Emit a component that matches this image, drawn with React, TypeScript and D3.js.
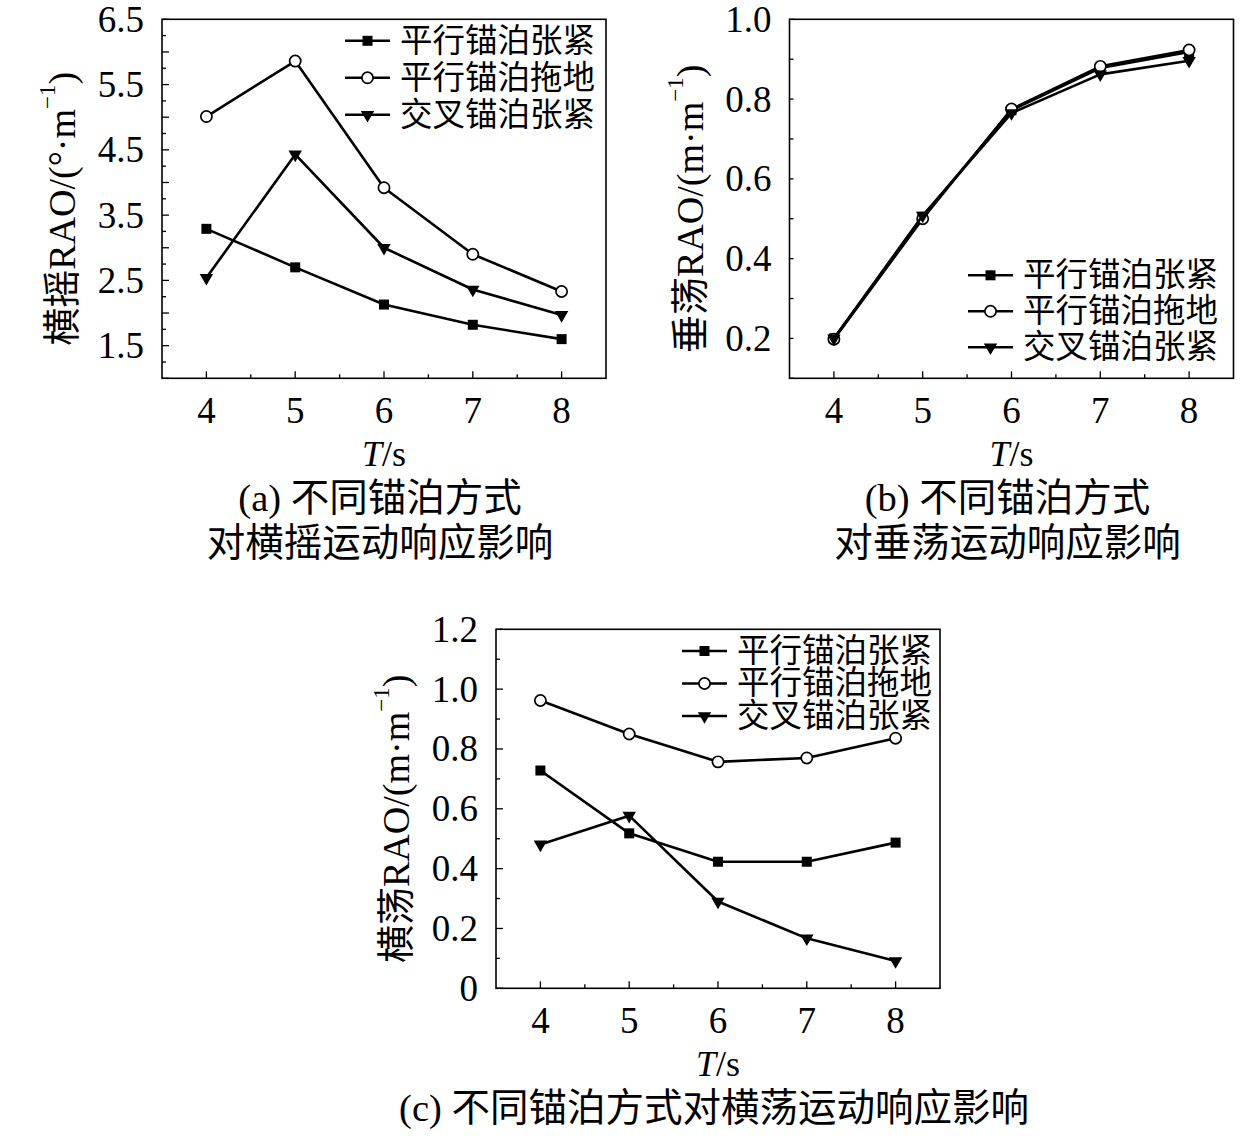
import React from 'react';
import * as d3 from 'd3';

const periods = [4, 5, 6, 7, 8];
const legendNames = ['平行锚泊张紧', '平行锚泊拖地', '交叉锚泊张紧'];
const markerTypes = ['square', 'circle', 'triangle'];

// (a) roll RAO
const rollParallelTaut = [3.29, 2.70, 2.13, 1.82, 1.60];
const rollParallelDrag = [5.01, 5.86, 3.92, 2.90, 2.33];
const rollCrossTaut = [2.54, 4.43, 3.00, 2.36, 1.97];
const rollTicks = [1.5, 2.5, 3.5, 4.5, 5.5, 6.5];

// (b) heave RAO
const heaveParallelTaut = [0.200, 0.505, 0.772, 0.878, 0.918];
const heaveParallelDrag = [0.198, 0.500, 0.775, 0.882, 0.923];
const heaveCrossTaut = [0.200, 0.508, 0.765, 0.862, 0.896];
const heaveTicks = [0.2, 0.4, 0.6, 0.8, 1.0];

// (c) sway RAO
const swayParallelTaut = [0.728, 0.518, 0.423, 0.423, 0.487];
const swayParallelDrag = [0.962, 0.850, 0.757, 0.770, 0.836];
const swayCrossTaut = [0.481, 0.577, 0.290, 0.167, 0.091];
const swayTicks = [0, 0.2, 0.4, 0.6, 0.8, 1.0, 1.2];

const FONT = "'Liberation Serif', 'Noto Sans CJK SC', serif";
const W = 444;
const H = 359;

type PanelProps = {
  x: number;
  y: number;
  series: number[][];
  yDomain: [number, number];
  yTicks: number[];
  majorStep: number;
  minorStep: number;
  fmt: (v: number) => string;
  yTitleCjk: string;
  yTitleUnit: string;
  legend: { x: number; y: number; step: number; size: number };
  caption: string[];
};

const Marker = ({ type, cx, cy }: { type: string; cx: number; cy: number }) => {
  if (type === 'circle') {
    return <circle cx={cx} cy={cy} r={5.6} fill="#fff" stroke="#000" strokeWidth={1.7} />;
  }
  if (type === 'square') {
    return <rect x={cx - 5} y={cy - 5} width={10} height={10} fill="#000" />;
  }
  const tri = d3.symbol().type(d3.symbolTriangle).size(78)();
  return <path d={tri as string} transform={`translate(${cx},${cy}) rotate(180)`} fill="#000" />;
};

const Panel = (p: PanelProps) => {
  const xScale = d3.scaleLinear().domain([3.5, 8.5]).range([0, W]);
  const yScale = d3.scaleLinear().domain(p.yDomain).range([H, 0]);

  const xMajor = periods;
  const xMinor = d3.range(4.5, 8, 1);
  const eps = 1e-6;
  const yMajor = d3.range(p.yDomain[0], p.yDomain[1] + eps, p.majorStep)
    .filter(v => Math.abs(((v - p.yTicks[0]) / p.majorStep) - Math.round((v - p.yTicks[0]) / p.majorStep)) < 1e-3);
  const yAll = d3.range(p.yDomain[0], p.yDomain[1] + eps, p.minorStep);

  const line = d3.line<number>()
    .x((_, i) => xScale(periods[i]))
    .y(d => yScale(d));

  return (
    <g transform={`translate(${p.x},${p.y})`} fontFamily={FONT}>
      {/* ticks point inward */}
      {yAll.map((v, i) => {
        const isMajor = yMajor.some(m => Math.abs(m - v) < 1e-6);
        return (
          <line key={'ym' + i} x1={0} x2={isMajor ? 7 : 4} y1={yScale(v)} y2={yScale(v)}
            stroke="#000" strokeWidth={1.3} />
        );
      })}
      {xMajor.map(v => (
        <line key={'xM' + v} x1={xScale(v)} x2={xScale(v)} y1={H} y2={H - 7} stroke="#000" strokeWidth={1.3} />
      ))}
      {xMinor.map(v => (
        <line key={'xm' + v} x1={xScale(v)} x2={xScale(v)} y1={H} y2={H - 4} stroke="#000" strokeWidth={1.3} />
      ))}
      <rect x={0} y={0} width={W} height={H} fill="none" stroke="#000" strokeWidth={1.6} />

      {p.yTicks.map(v => (
        <text key={'yl' + v} x={-18} y={yScale(v)} textAnchor="end" dominantBaseline="central"
          fontSize={37}>{p.fmt(v)}</text>
      ))}
      {xMajor.map(v => (
        <text key={'xl' + v} x={xScale(v)} y={H + 45} textAnchor="middle" fontSize={37}>{v}</text>
      ))}
      <text x={W / 2} y={H + 88} textAnchor="middle" fontSize={36}>
        <tspan fontStyle="italic">T</tspan>/s
      </text>
      {p.caption.map((c, i) => (
        <text key={'cap' + i} x={W / 2 - 4} y={H + 133 + i * 45} textAnchor="middle" fontSize={38.5}>{c}</text>
      ))}

      <text transform={`translate(-100,${H / 2 + 10}) rotate(-90)`} textAnchor="middle"
        dominantBaseline="central" fontSize={38}>
        {p.yTitleCjk}{p.yTitleUnit}
        <tspan dy={-15} fontSize={23}>−1</tspan>
        <tspan dy={15}>)</tspan>
      </text>

      {p.series.map((s, k) => (
        <g key={'s' + k}>
          <path d={line(s) as string} fill="none" stroke="#000" strokeWidth={2.6} strokeLinejoin="round" />
          {s.map((v, i) => (
            <Marker key={i} type={markerTypes[k]} cx={xScale(periods[i])} cy={yScale(v)} />
          ))}
        </g>
      ))}

      {legendNames.map((name, k) => {
        const ly = p.legend.y + k * p.legend.step;
        return (
          <g key={'lg' + k}>
            <line x1={p.legend.x} x2={p.legend.x + 45} y1={ly} y2={ly} stroke="#000" strokeWidth={2.6} />
            <Marker type={markerTypes[k]} cx={p.legend.x + 22.5} cy={ly} />
            <text x={p.legend.x + 55} y={ly} dominantBaseline="central" fontSize={p.legend.size}>{name}</text>
          </g>
        );
      })}
    </g>
  );
};

const App = () => {
  return (
    <svg width={1260} height={1139} style={{ position: 'absolute', left: 0, top: 0, background: '#fff' }}>
      <rect width={1260} height={1139} fill="#fff" />
      <Panel
        x={162} y={19.3}
        series={[rollParallelTaut, rollParallelDrag, rollCrossTaut]}
        yDomain={[1, 6.5]} yTicks={rollTicks} majorStep={0.5} minorStep={0.25}
        fmt={d3.format('.1f')}
        yTitleCjk="横摇" yTitleUnit="RAO/(°·m"
        legend={{ x: 183, y: 21.5, step: 37, size: 32.5 }}
        caption={['(a) 不同锚泊方式', '对横摇运动响应影响']}
      />
      <Panel
        x={789.5} y={19.3}
        series={[heaveParallelTaut, heaveParallelDrag, heaveCrossTaut]}
        yDomain={[0.1, 1.0]} yTicks={heaveTicks} majorStep={0.2} minorStep={0.1}
        fmt={d3.format('.1f')}
        yTitleCjk="垂荡" yTitleUnit="RAO/(m·m"
        legend={{ x: 178.5, y: 256, step: 36, size: 32.5 }}
        caption={['(b) 不同锚泊方式', '对垂荡运动响应影响']}
      />
      <Panel
        x={496} y={629.3}
        series={[swayParallelTaut, swayParallelDrag, swayCrossTaut]}
        yDomain={[0, 1.2]} yTicks={swayTicks} majorStep={0.2} minorStep={0.1}
        fmt={v => (v === 0 ? '0' : d3.format('.1f')(v))}
        yTitleCjk="横荡" yTitleUnit="RAO/(m·m"
        legend={{ x: 186, y: 21.7, step: 32.5, size: 32.5 }}
        caption={['(c) 不同锚泊方式对横荡运动响应影响']}
      />
    </svg>
  );
};

export default App;
